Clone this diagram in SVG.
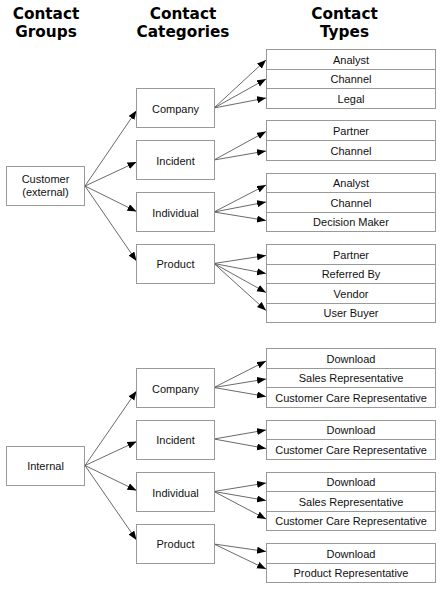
<svg xmlns="http://www.w3.org/2000/svg" width="442" height="589" viewBox="0 0 442 589">
<style>
.hd{font-family:"DejaVu Sans",sans-serif;font-weight:bold;font-size:15.3px;fill:#000;text-anchor:middle}
.t{font-family:"Liberation Sans",Arial,sans-serif;font-size:11px;fill:#111;text-anchor:middle}
.b{fill:#fff;stroke:#999;stroke-width:1}
.c line{stroke:#444;stroke-width:0.8;marker-end:url(#ah)}
</style>
<defs>
<marker id="ah" markerUnits="userSpaceOnUse" markerWidth="10" markerHeight="8" refX="9" refY="3.5" orient="auto">
<path d="M0,0 L9,3.5 L0,7 z" fill="#000"/>
</marker>
</defs>
<rect width="442" height="589" fill="#fff"/>
<g id="headers">
<text class="hd" x="46" y="18.5">Contact</text><text class="hd" x="46" y="36.5">Groups</text>
<text class="hd" x="183" y="18.5">Contact</text><text class="hd" x="183" y="36.5">Categories</text>
<text class="hd" x="344.5" y="18.5">Contact</text><text class="hd" x="344.5" y="36.5">Types</text>
</g>
<g id="connectors" class="c">
<line x1="85" y1="186" x2="136.5" y2="110.5"/>
<line x1="85" y1="186" x2="136.5" y2="162"/>
<line x1="85" y1="186" x2="136.5" y2="211.5"/>
<line x1="85" y1="186" x2="136.5" y2="261"/>
<line x1="214" y1="108" x2="266" y2="60"/>
<line x1="214" y1="108" x2="266" y2="79"/>
<line x1="214" y1="108" x2="266" y2="98"/>
<line x1="214" y1="160" x2="266" y2="131.5"/>
<line x1="214" y1="160" x2="266" y2="151"/>
<line x1="214" y1="212" x2="266" y2="185"/>
<line x1="214" y1="212" x2="266" y2="202"/>
<line x1="214" y1="212" x2="266" y2="220.5"/>
<line x1="214" y1="263.5" x2="266" y2="255.5"/>
<line x1="214" y1="263.5" x2="266" y2="273.5"/>
<line x1="214" y1="263.5" x2="266" y2="292.5"/>
<line x1="214" y1="263.5" x2="266" y2="310.5"/>
<line x1="85" y1="465.5" x2="136.5" y2="391"/>
<line x1="85" y1="465.5" x2="136.5" y2="441.5"/>
<line x1="85" y1="465.5" x2="136.5" y2="490.5"/>
<line x1="85" y1="465.5" x2="136.5" y2="540"/>
<line x1="214" y1="387.5" x2="266" y2="361"/>
<line x1="214" y1="387.5" x2="266" y2="379"/>
<line x1="214" y1="387.5" x2="266" y2="396.5"/>
<line x1="214" y1="439" x2="266" y2="430"/>
<line x1="214" y1="439" x2="266" y2="448.5"/>
<line x1="214" y1="491.5" x2="266" y2="483"/>
<line x1="214" y1="491.5" x2="266" y2="500.5"/>
<line x1="214" y1="491.5" x2="266" y2="519"/>
<line x1="214" y1="544" x2="266" y2="551.5"/>
<line x1="214" y1="544" x2="266" y2="569"/>
</g>
<g id="grp-customer"><rect class="b" x="6.5" y="166.5" width="78" height="39"/><text class="t" x="45.5" y="183">Customer</text><text class="t" x="45.5" y="195.5">(external)</text></g>
<g id="grp-internal"><rect class="b" x="6.5" y="446.5" width="78" height="39"/><text class="t" x="45.5" y="470">Internal</text></g>
<g id="cat-company-1"><rect class="b" x="136.5" y="88.5" width="78" height="39"/><text class="t" x="175.5" y="112.5">Company</text></g>
<g id="cat-incident-1"><rect class="b" x="136.5" y="140.5" width="78" height="39"/><text class="t" x="175.5" y="164.5">Incident</text></g>
<g id="cat-individual-1"><rect class="b" x="136.5" y="192.5" width="78" height="39"/><text class="t" x="175.5" y="216.5">Individual</text></g>
<g id="cat-product-1"><rect class="b" x="136.5" y="244.5" width="78" height="39"/><text class="t" x="175.5" y="268">Product</text></g>
<g id="cat-company-2"><rect class="b" x="136.5" y="368.5" width="78" height="39"/><text class="t" x="175.5" y="392.5">Company</text></g>
<g id="cat-incident-2"><rect class="b" x="136.5" y="420.5" width="78" height="39"/><text class="t" x="175.5" y="444">Incident</text></g>
<g id="cat-individual-2"><rect class="b" x="136.5" y="472.5" width="78" height="39"/><text class="t" x="175.5" y="496.5">Individual</text></g>
<g id="cat-product-2"><rect class="b" x="136.5" y="524.5" width="78" height="39"/><text class="t" x="175.5" y="548">Product</text></g>
<g id="type-1-analyst"><rect class="b" x="266.5" y="49.5" width="169" height="20"/><text class="t" x="351" y="63.5">Analyst</text></g>
<g id="type-1-channel"><rect class="b" x="266.5" y="69.5" width="169" height="19"/><text class="t" x="351" y="83">Channel</text></g>
<g id="type-1-legal"><rect class="b" x="266.5" y="88.5" width="169" height="20"/><text class="t" x="351" y="102.5">Legal</text></g>
<g id="type-2-partner"><rect class="b" x="266.5" y="120.5" width="169" height="20"/><text class="t" x="351" y="134.5">Partner</text></g>
<g id="type-2-channel"><rect class="b" x="266.5" y="140.5" width="169" height="20"/><text class="t" x="351" y="154.5">Channel</text></g>
<g id="type-3-analyst"><rect class="b" x="266.5" y="173.5" width="169" height="19"/><text class="t" x="351" y="187">Analyst</text></g>
<g id="type-3-channel"><rect class="b" x="266.5" y="192.5" width="169" height="20"/><text class="t" x="351" y="206.5">Channel</text></g>
<g id="type-3-decision"><rect class="b" x="266.5" y="212.5" width="169" height="19"/><text class="t" x="351" y="226">Decision Maker</text></g>
<g id="type-4-partner"><rect class="b" x="266.5" y="244.5" width="169" height="20"/><text class="t" x="351" y="258.5">Partner</text></g>
<g id="type-4-referred"><rect class="b" x="266.5" y="264.5" width="169" height="19"/><text class="t" x="351" y="278">Referred By</text></g>
<g id="type-4-vendor"><rect class="b" x="266.5" y="283.5" width="169" height="20"/><text class="t" x="351" y="297.5">Vendor</text></g>
<g id="type-4-userbuyer"><rect class="b" x="266.5" y="303.5" width="169" height="19"/><text class="t" x="351" y="317">User Buyer</text></g>
<g id="type-5-download"><rect class="b" x="266.5" y="348.5" width="169" height="20"/><text class="t" x="351" y="362.5">Download</text></g>
<g id="type-5-sales"><rect class="b" x="266.5" y="368.5" width="169" height="19"/><text class="t" x="351" y="382">Sales Representative</text></g>
<g id="type-5-ccr"><rect class="b" x="266.5" y="387.5" width="169" height="20"/><text class="t" x="351" y="401.5">Customer Care Representative</text></g>
<g id="type-6-download"><rect class="b" x="266.5" y="420.5" width="169" height="19"/><text class="t" x="351" y="434">Download</text></g>
<g id="type-6-ccr"><rect class="b" x="266.5" y="439.5" width="169" height="20"/><text class="t" x="351" y="453.5">Customer Care Representative</text></g>
<g id="type-7-download"><rect class="b" x="266.5" y="472.5" width="169" height="19"/><text class="t" x="351" y="486">Download</text></g>
<g id="type-7-sales"><rect class="b" x="266.5" y="491.5" width="169" height="20"/><text class="t" x="351" y="505.5">Sales Representative</text></g>
<g id="type-7-ccr"><rect class="b" x="266.5" y="511.5" width="169" height="19"/><text class="t" x="351" y="525">Customer Care Representative</text></g>
<g id="type-8-download"><rect class="b" x="266.5" y="543.5" width="169" height="20"/><text class="t" x="351" y="557.5">Download</text></g>
<g id="type-8-productrep"><rect class="b" x="266.5" y="563.5" width="169" height="19"/><text class="t" x="351" y="577">Product Representative</text></g>
</svg>
